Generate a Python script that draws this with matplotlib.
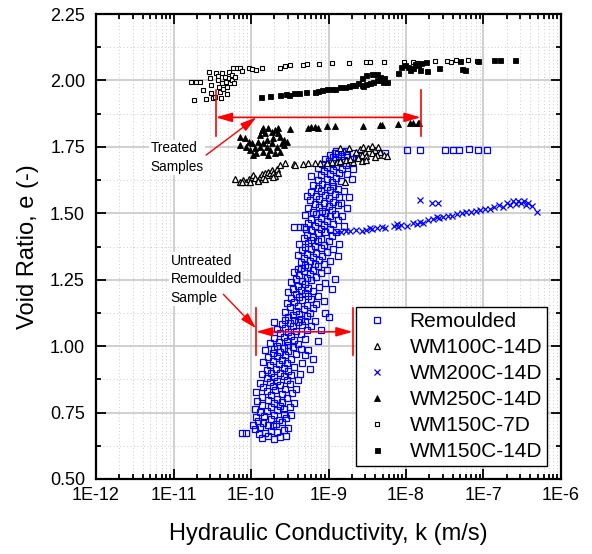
import numpy as np
import matplotlib
matplotlib.use("Agg")
import matplotlib.pyplot as plt
from matplotlib.patches import ArrowStyle
from matplotlib.ticker import FixedLocator, FuncFormatter, NullFormatter

plt.rcParams['font.family'] = ['Liberation Sans', 'DejaVu Sans']

# (log10 k [m/s], void ratio e) read per series
remoulded = [
    # e 0.65 - 0.70
    (-10.12, 0.674), (-10.06, 0.674), (-9.86, 0.655), (-9.78, 0.660), (-9.70, 0.652), (-9.62, 0.658),
    (-9.55, 0.662), (-9.90, 0.668), (-9.82, 0.672), (-9.74, 0.680), (-9.66, 0.676), (-9.58, 0.685),
    (-9.95, 0.690), (-9.88, 0.695), (-9.71, 0.698), (-9.52, 0.692),
    # e 0.70 - 0.80
    (-9.97, 0.705), (-9.85, 0.710), (-9.78, 0.702), (-9.68, 0.708), (-9.60, 0.715), (-9.91, 0.720),
    (-9.74, 0.725), (-9.64, 0.722), (-9.55, 0.730), (-9.93, 0.735), (-9.83, 0.738), (-9.70, 0.742),
    (-9.58, 0.745), (-9.48, 0.740), (-9.88, 0.752), (-9.79, 0.755), (-9.66, 0.758), (-9.57, 0.762),
    (-9.95, 0.765), (-9.74, 0.770), (-9.62, 0.775), (-9.50, 0.772), (-9.86, 0.780), (-9.70, 0.785),
    (-9.60, 0.790), (-9.44, 0.785), (-9.92, 0.795), (-9.78, 0.798),
    # e 0.80 - 0.90
    (-9.66, 0.802), (-9.53, 0.806), (-9.86, 0.810), (-9.74, 0.815), (-9.60, 0.818), (-9.47, 0.822),
    (-9.93, 0.826), (-9.80, 0.830), (-9.69, 0.835), (-9.56, 0.838), (-9.42, 0.840), (-9.84, 0.846),
    (-9.72, 0.850), (-9.62, 0.853), (-9.50, 0.857), (-9.89, 0.862), (-9.76, 0.866), (-9.66, 0.870),
    (-9.54, 0.874), (-9.40, 0.872), (-9.80, 0.880), (-9.70, 0.884), (-9.58, 0.888), (-9.48, 0.891),
    (-9.86, 0.895), (-9.74, 0.898), (-9.63, 0.900), (-9.37, 0.896),
    # e 0.90 - 1.00
    (-9.52, 0.905), (-9.80, 0.910), (-9.68, 0.914), (-9.58, 0.918), (-9.44, 0.922), (-9.76, 0.928),
    (-9.64, 0.932), (-9.54, 0.936), (-9.34, 0.935), (-9.85, 0.942), (-9.72, 0.945), (-9.60, 0.948),
    (-9.48, 0.952), (-9.78, 0.958), (-9.66, 0.962), (-9.56, 0.966), (-9.42, 0.970), (-9.30, 0.968),
    (-9.72, 0.975), (-9.62, 0.978), (-9.52, 0.982), (-9.82, 0.986), (-9.70, 0.990), (-9.58, 0.993),
    (-9.46, 0.996), (-9.36, 0.990), (-9.26, 0.985), (-9.66, 1.000), (-9.20, 0.950), (-9.24, 0.915),
    # e 1.00 - 1.10
    (-9.52, 1.004), (-9.40, 1.008), (-9.76, 1.012), (-9.64, 1.016), (-9.54, 1.020), (-9.44, 1.024),
    (-9.30, 1.026), (-9.70, 1.032), (-9.58, 1.036), (-9.48, 1.040), (-9.36, 1.044), (-9.62, 1.050),
    (-9.52, 1.054), (-9.42, 1.058), (-9.28, 1.060), (-9.66, 1.066), (-9.56, 1.070), (-9.46, 1.074),
    (-9.34, 1.078), (-9.22, 1.076), (-9.60, 1.084), (-9.50, 1.088), (-9.40, 1.090), (-9.30, 1.094),
    (-9.56, 1.098), (-9.44, 1.100), (-9.18, 1.096), (-9.70, 1.092), (-9.14, 1.020), (-9.10, 1.062),
    # e 1.10 - 1.20
    (-9.36, 1.104), (-9.52, 1.108), (-9.04, 1.124), (-9.00, 1.111), (-9.28, 1.112), (-9.46, 1.118),
    (-9.38, 1.122), (-9.24, 1.126), (-9.56, 1.130), (-9.42, 1.134), (-9.32, 1.138), (-9.20, 1.142),
    (-9.50, 1.148), (-9.40, 1.152), (-9.28, 1.156), (-9.16, 1.158), (-9.54, 1.164), (-9.44, 1.168),
    (-9.34, 1.172), (-9.22, 1.176), (-9.48, 1.182), (-9.38, 1.186), (-9.26, 1.190), (-9.14, 1.188),
    (-9.42, 1.196), (-9.30, 1.200), (-9.06, 1.170),
    # e 1.20 - 1.30
    (-9.52, 1.204), (-9.20, 1.206), (-9.36, 1.210), (-9.46, 1.216), (-9.26, 1.220), (-9.12, 1.222),
    (-9.40, 1.228), (-9.30, 1.232), (-9.04, 1.236), (-9.48, 1.240), (-9.34, 1.244), (-9.22, 1.248),
    (-9.42, 1.254), (-9.28, 1.258), (-9.16, 1.262), (-9.38, 1.268), (-9.24, 1.272), (-9.10, 1.276),
    (-9.44, 1.280), (-9.32, 1.284), (-9.20, 1.288), (-9.02, 1.286), (-9.36, 1.294), (-9.26, 1.298),
    (-9.14, 1.300), (-9.40, 1.290), (-8.92, 1.252), (-8.96, 1.214),
    # e 1.30 - 1.40
    (-9.30, 1.304), (-9.18, 1.308), (-9.06, 1.310), (-9.36, 1.316), (-9.24, 1.320), (-9.12, 1.324),
    (-8.98, 1.322), (-9.32, 1.330), (-9.20, 1.334), (-9.08, 1.338), (-9.40, 1.342), (-9.28, 1.346),
    (-9.16, 1.350), (-9.02, 1.354), (-9.34, 1.360), (-9.22, 1.364), (-9.10, 1.368), (-8.94, 1.366),
    (-9.30, 1.374), (-9.18, 1.378), (-9.06, 1.382), (-9.38, 1.386), (-9.26, 1.390), (-9.14, 1.394),
    (-9.00, 1.396), (-9.22, 1.400), (-8.88, 1.338), (-8.86, 1.384),
    # e 1.40 - 1.50
    (-9.10, 1.404), (-9.32, 1.408), (-9.20, 1.412), (-8.96, 1.414), (-9.28, 1.420), (-9.14, 1.424),
    (-9.04, 1.428), (-8.90, 1.430), (-9.45, 1.447), (-9.37, 1.447), (-9.31, 1.447), (-9.29, 1.440),
    (-9.22, 1.436), (-9.10, 1.440), (-8.98, 1.442), (-9.18, 1.452), (-9.06, 1.456), (-8.94, 1.460),
    (-9.26, 1.464), (-9.14, 1.468), (-9.02, 1.472), (-8.88, 1.474), (-9.22, 1.480), (-9.10, 1.484),
    (-8.98, 1.488), (-9.30, 1.492), (-9.16, 1.496), (-9.04, 1.500), (-8.92, 1.498), (-8.82, 1.490),
    (-8.80, 1.452),
    # e 1.50 - 1.60
    (-9.20, 1.506), (-9.08, 1.510), (-8.96, 1.514), (-9.26, 1.520), (-9.12, 1.524), (-9.00, 1.528),
    (-8.88, 1.530), (-9.18, 1.536), (-9.06, 1.540), (-8.94, 1.544), (-9.24, 1.550), (-9.12, 1.554),
    (-9.00, 1.558), (-8.86, 1.560), (-9.16, 1.566), (-9.04, 1.570), (-8.92, 1.574), (-9.22, 1.580),
    (-9.10, 1.584), (-8.98, 1.588), (-8.88, 1.592), (-9.14, 1.596), (-9.02, 1.600), (-8.80, 1.585),
    (-9.28, 1.565), (-8.84, 1.540), (-8.76, 1.520), (-8.74, 1.562),
    # e 1.60 - 1.70
    (-8.94, 1.604), (-9.20, 1.608), (-9.08, 1.612), (-8.96, 1.616), (-8.84, 1.620), (-9.14, 1.626),
    (-9.02, 1.630), (-8.90, 1.634), (-9.22, 1.640), (-9.10, 1.644), (-8.98, 1.648), (-8.86, 1.652),
    (-8.76, 1.648), (-9.06, 1.658), (-8.94, 1.662), (-8.82, 1.666), (-9.14, 1.670), (-9.02, 1.674),
    (-8.90, 1.678), (-8.78, 1.680), (-9.08, 1.686), (-8.96, 1.690), (-8.86, 1.694), (-8.74, 1.690),
    (-9.00, 1.698), (-8.92, 1.700), (-8.70, 1.630), (-8.68, 1.668),
    # e 1.70 - 1.75
    (-8.80, 1.702), (-9.04, 1.706), (-8.70, 1.706), (-8.94, 1.710), (-8.84, 1.714), (-8.64, 1.710),
    (-8.98, 1.718), (-8.88, 1.722), (-8.76, 1.720), (-8.60, 1.716), (-8.92, 1.726), (-8.82, 1.730),
    (-8.70, 1.728), (-8.27, 1.728), (-8.90, 1.734), (-8.78, 1.736),
    # end of test, higher k
    (-7.99, 1.737), (-7.82, 1.740), (-7.50, 1.738), (-7.39, 1.740), (-7.31, 1.740), (-7.19, 1.742),
    (-7.07, 1.740), (-6.96, 1.740),
]

wm100c_14d = [
    (-10.21, 1.628), (-10.14, 1.619), (-10.10, 1.625), (-10.06, 1.619), (-10.03, 1.628), (-9.99, 1.635),
    (-9.97, 1.644), (-9.95, 1.632), (-9.91, 1.625), (-9.88, 1.638), (-9.86, 1.648), (-9.84, 1.638),
    (-9.82, 1.653), (-9.80, 1.644), (-9.78, 1.657), (-9.75, 1.650), (-9.73, 1.663), (-9.71, 1.653),
    (-9.69, 1.640), (-9.67, 1.666), (-9.65, 1.650), (-9.71, 1.635), (-9.82, 1.628), (-9.91, 1.621),
    (-10.01, 1.619), (-10.12, 1.617),
    (-9.63, 1.682), (-9.56, 1.688), (-9.45, 1.684), (-9.43, 1.682), (-9.33, 1.686), (-9.26, 1.688),
    (-9.17, 1.688), (-9.11, 1.690), (-9.02, 1.690), (-8.96, 1.692), (-8.89, 1.694), (-8.85, 1.697),
    (-8.77, 1.700), (-8.79, 1.619),
    (-8.85, 1.745), (-8.74, 1.745), (-8.64, 1.732), (-8.59, 1.741), (-8.55, 1.751), (-8.53, 1.732),
    (-8.49, 1.745), (-8.44, 1.753), (-8.40, 1.738), (-8.36, 1.751), (-8.34, 1.732), (-8.29, 1.719),
    (-8.25, 1.716), (-8.57, 1.719), (-8.51, 1.716), (-8.44, 1.726), (-8.38, 1.719), (-8.62, 1.707),
    (-8.57, 1.698), (-8.51, 1.700), (-8.68, 1.694), (-8.72, 1.703), (-8.40, 1.711),
]

wm200c_14d = [
    (-8.89, 1.431), (-8.84, 1.431), (-8.78, 1.432), (-8.72, 1.435), (-8.64, 1.437), (-8.57, 1.433),
    (-8.51, 1.437), (-8.46, 1.443), (-8.44, 1.440), (-8.38, 1.443), (-8.31, 1.447), (-8.27, 1.443),
    (-8.16, 1.452), (-8.12, 1.460), (-8.10, 1.450), (-8.06, 1.456), (-7.99, 1.452), (-7.91, 1.462),
    (-7.86, 1.460), (-7.82, 1.468), (-7.78, 1.465), (-7.71, 1.475), (-7.65, 1.477), (-7.60, 1.487),
    (-7.57, 1.481), (-7.82, 1.550), (-7.67, 1.538), (-7.59, 1.538),
    (-7.52, 1.485), (-7.46, 1.490), (-7.40, 1.488), (-7.34, 1.496), (-7.28, 1.500), (-7.22, 1.505),
    (-7.16, 1.503), (-7.10, 1.510), (-7.04, 1.512), (-6.98, 1.518), (-6.92, 1.515), (-6.86, 1.522),
    (-6.80, 1.530), (-6.75, 1.525), (-6.70, 1.538), (-6.66, 1.530), (-6.62, 1.545), (-6.58, 1.535),
    (-6.55, 1.548), (-6.52, 1.540), (-6.48, 1.545), (-6.45, 1.532), (-6.42, 1.540), (-6.38, 1.528),
    (-6.31, 1.505),
]

wm250c_14d = [
    (-10.14, 1.788), (-10.08, 1.782), (-10.03, 1.769), (-9.99, 1.763), (-10.14, 1.757), (-10.06, 1.751),
    (-10.01, 1.738), (-9.95, 1.745), (-9.88, 1.795), (-9.86, 1.814), (-9.82, 1.801), (-9.78, 1.820),
    (-9.73, 1.807), (-9.69, 1.814), (-9.65, 1.801), (-9.63, 1.788), (-9.58, 1.776), (-9.60, 1.763),
    (-9.67, 1.751), (-9.73, 1.763), (-9.80, 1.776), (-9.84, 1.763), (-9.88, 1.751), (-9.93, 1.726),
    (-9.97, 1.719), (-9.84, 1.732), (-9.75, 1.738), (-9.69, 1.726), (-9.78, 1.719), (-9.63, 1.732),
    (-9.58, 1.757), (-9.54, 1.769), (-9.91, 1.769), (-9.80, 1.751), (-9.71, 1.782), (-9.65, 1.820),
    (-9.84, 1.820),
    (-9.50, 1.817), (-9.26, 1.820), (-9.22, 1.826), (-9.17, 1.826), (-9.13, 1.822), (-9.02, 1.829),
    (-8.92, 1.829), (-8.56, 1.829), (-8.34, 1.832), (-8.31, 1.832), (-8.10, 1.836), (-7.95, 1.839),
    (-7.91, 1.839), (-7.85, 1.839), (-7.83, 1.839),
]

wm150c_7d = [
    (-10.74, 1.926), (-10.77, 1.994), (-10.71, 1.994), (-10.66, 1.994), (-10.62, 1.964), (-10.58, 1.929),
    (-10.54, 2.033), (-10.53, 2.008), (-10.52, 1.983), (-10.51, 1.952), (-10.49, 1.933), (-10.46, 1.939),
    (-10.45, 2.029), (-10.43, 2.017), (-10.42, 2.002), (-10.41, 1.974), (-10.40, 1.958), (-10.39, 1.933),
    (-10.38, 2.027), (-10.37, 1.989), (-10.36, 1.967), (-10.34, 2.014), (-10.32, 1.995), (-10.31, 1.949),
    (-10.31, 1.976), (-10.29, 2.033), (-10.28, 2.008), (-10.27, 1.989), (-10.25, 2.020), (-10.24, 2.002),
    (-10.23, 2.046), (-10.22, 1.989), (-10.21, 2.014), (-10.18, 2.046), (-10.14, 2.046), (-10.11, 2.035),
    (-10.03, 2.046), (-9.99, 2.042), (-9.94, 2.039), (-9.86, 2.048),
    (-9.63, 2.048), (-9.56, 2.054), (-9.50, 2.057), (-9.33, 2.058), (-9.28, 2.061), (-9.12, 2.061),
    (-8.96, 2.064), (-8.73, 2.067), (-8.52, 2.068), (-8.46, 2.068), (-8.29, 2.069), (-8.03, 2.071),
    (-7.91, 2.069), (-7.86, 2.067), (-7.63, 2.072), (-7.47, 2.073), (-7.42, 2.071), (-7.35, 2.076),
    (-7.20, 2.078), (-7.09, 2.073),
]

wm150c_14d = [
    (-9.87, 1.939), (-9.75, 1.941), (-9.63, 1.945), (-9.55, 1.949), (-9.51, 1.945), (-9.45, 1.952),
    (-9.38, 1.954), (-9.29, 1.956), (-9.17, 1.956), (-9.13, 1.961), (-9.09, 1.964), (-9.02, 1.967),
    (-8.96, 1.967), (-8.92, 1.969), (-8.85, 1.974), (-8.79, 1.976), (-8.74, 1.979), (-8.70, 1.983),
    (-8.66, 1.984), (-8.62, 1.989), (-8.57, 1.984), (-8.55, 1.979), (-8.51, 1.987), (-8.46, 1.991),
    (-8.42, 1.995), (-8.38, 2.002), (-8.34, 2.002), (-8.30, 1.995), (-8.25, 1.993), (-8.57, 2.008),
    (-8.51, 2.020), (-8.44, 2.023), (-8.38, 2.024), (-8.34, 2.014), (-8.29, 2.008), (-8.10, 2.029),
    (-8.06, 2.052), (-8.01, 2.058), (-7.97, 2.052), (-7.95, 2.039), (-7.91, 2.046), (-7.88, 2.062),
    (-7.84, 2.058), (-7.82, 2.039), (-7.80, 2.064), (-7.74, 2.069), (-7.73, 2.035), (-7.57, 2.046),
    (-7.28, 2.043), (-7.24, 2.039), (-7.30, 2.073), (-7.07, 2.072), (-6.87, 2.076), (-6.79, 2.078),
    (-6.59, 2.078),
]

# label, data, marker style
series = [
    ("Remoulded", remoulded, dict(marker="s", mfc="none", mec="#0000ff", ms=3.8, mew=0.9)),
    ("WM100C-14D", wm100c_14d, dict(marker="^", mfc="white", mec="black", ms=4.6, mew=0.9)),
    ("WM200C-14D", wm200c_14d, dict(marker="x", color="#0000ff", ms=4.0, mew=0.9)),
    ("WM250C-14D", wm250c_14d, dict(marker="^", mfc="black", mec="black", ms=4.8, mew=0.6)),
    ("WM150C-7D", wm150c_7d, dict(marker="s", mfc="white", mec="black", ms=3.4, mew=0.8)),
    ("WM150C-14D", wm150c_14d, dict(marker="s", mfc="black", mec="black", ms=3.6, mew=0.6)),
]

x_decades = [-12, -11, -10, -9, -8, -7, -6]
y_ticks = [0.50, 0.75, 1.00, 1.25, 1.50, 1.75, 2.00, 2.25]

# red range markers: k at both ends, e of the arrow, e span of the end bars
treated_range = (3.5e-11, 1.55e-8, 1.861, (1.791, 1.964))
untreated_range = (1.16e-10, 2.05e-9, 1.054, (0.967, 1.142))

fig = plt.figure(figsize=(5.92, 5.54), dpi=100)
ax = fig.add_axes([0.1622, 0.1354, 0.7854, 0.8393])

for label, pts, style in series:
    logk, e = np.array(pts).T
    ax.plot(10 ** logk, e, linestyle="none", label=label, zorder=3, **style)

ax.set_xscale("log")
ax.set_xlim(1e-12, 1e-6)
ax.set_ylim(0.5, 2.25)

major_x = [10.0 ** d for d in x_decades]
minor_x = [m * 10.0 ** d for d in x_decades[:-1] for m in range(2, 10)]
ax.xaxis.set_major_locator(FixedLocator(major_x))
ax.xaxis.set_minor_locator(FixedLocator(minor_x))
ax.xaxis.set_major_formatter(FuncFormatter(lambda v, p: "1E%d" % int(round(np.log10(v)))))
ax.xaxis.set_minor_formatter(NullFormatter())
ax.yaxis.set_major_locator(FixedLocator(y_ticks))
ax.yaxis.set_minor_locator(FixedLocator([t + 0.125 for t in y_ticks[:-1]]))
ax.yaxis.set_major_formatter(FuncFormatter(lambda v, p: "%.2f" % v))

ax.grid(which="major", color="#c8c8c8", lw=1.2, ls="-")
ax.grid(which="minor", color="#cccccc", lw=0.7, ls=(0, (1, 2.5)))
ax.set_axisbelow(True)

for s in ax.spines.values():
    s.set_linewidth(1.6)
ax.tick_params(which="both", direction="in", top=True, right=True, width=1.3)
ax.tick_params(which="major", length=7, labelsize=13, pad=6)
ax.tick_params(which="minor", length=3.5)
ax.tick_params(axis="y", pad=8)

ax.set_xlabel("Hydraulic Conductivity, k (m/s)", fontsize=17)
ax.set_ylabel("Void Ratio, e (-)", fontsize=17)
ax.xaxis.set_label_coords(0.5, -0.094)
ax.yaxis.set_label_coords(-0.122, 0.5)

# double-headed range arrows with end bars
arrow = ArrowStyle("<|-|>", head_length=0.7, head_width=0.2)
for k0, k1, e0, (b0, b1) in (treated_range, untreated_range):
    ax.annotate("", xy=(k1, e0), xytext=(k0, e0),
                arrowprops=dict(arrowstyle=arrow, color="red", lw=1.2, mutation_scale=14,
                                shrinkA=0, shrinkB=0), zorder=4)
    for kk in (k0, k1):
        ax.plot([kk, kk], [b0, b1], color="red", lw=1.2, zorder=4)

# callout texts and their pointers
pointer = ArrowStyle("-|>", head_length=0.7, head_width=0.2)
ax.text(5.1e-12, 1.71, "Treated\nSamples", fontsize=9.8, ha="left", va="center",
        linespacing=1.42, bbox=dict(fc="white", ec="none", pad=1), zorder=4)
ax.annotate("", xy=(1.17e-10, 1.861), xytext=(2.63e-11, 1.719),
            arrowprops=dict(arrowstyle=pointer, color="red", lw=1.0, mutation_scale=14,
                            shrinkA=0, shrinkB=0), zorder=4)
ax.text(9.2e-12, 1.251, "Untreated\nRemoulded\nSample", fontsize=10, ha="left", va="center",
        linespacing=1.42, bbox=dict(fc="white", ec="none", pad=1), zorder=4)
ax.annotate("", xy=(1.16e-10, 1.067), xytext=(4.4e-11, 1.195),
            arrowprops=dict(arrowstyle=pointer, color="red", lw=1.0, mutation_scale=14,
                            shrinkA=0, shrinkB=0), zorder=4)

leg = ax.legend(loc="lower left", bbox_to_anchor=(0.559, 0.028), borderaxespad=0,
                fontsize=15, frameon=True, fancybox=False, framealpha=1, edgecolor="black",
                borderpad=0.22, handlelength=1.6, handletextpad=0.75, labelspacing=0.34,
                numpoints=1)
leg.get_frame().set_linewidth(1.0)
leg.set_zorder(5)

fig.savefig("out.png", dpi=100)
